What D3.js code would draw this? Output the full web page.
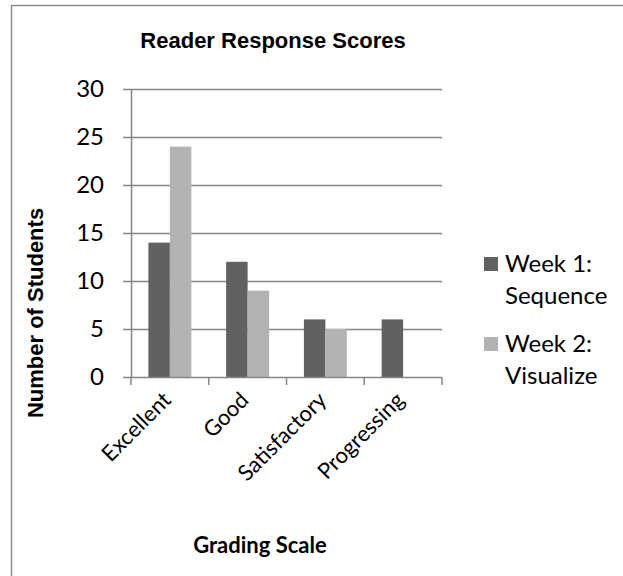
<!DOCTYPE html>
<html>
<head>
<meta charset="utf-8">
<script src="https://cdn.jsdelivr.net/npm/d3@7"></script>
<style>
  body { margin: 0; background: #fff; }
  svg { display: block; }
</style>
</head>
<body>
<svg id="chart" width="623" height="576"></svg>
<script>
// Chart values
let categories = ["Excellent", "Good", "Satisfactory", "Progressing"];
let seriesNames = ["Week 1: Sequence", "Week 2: Visualize"];
let legendLines = [["Week 1:", "Sequence"], ["Week 2:", "Visualize"]];
let week1 = [14, 12, 6, 6];
let week2 = [24, 9, 5, 0];
let yTicks = [0, 5, 10, 15, 20, 25, 30];
let colors = ["#616161", "#b3b3b3"];

let svg = d3.select("#chart");
let axisGray = "#868686";

// outer chart frame (right/bottom edges fall outside the picture)
svg.append("rect")
    .attr("x", 11.5).attr("y", 5.5)
    .attr("width", 640).attr("height", 600)
    .attr("fill", "none")
    .attr("stroke", "#8c8c8c")
    .attr("stroke-width", 1.5);

let plot = {left: 131, right: 442, top: 89, bottom: 377};

let x0 = d3.scaleBand().domain(categories).range([plot.left, plot.right]);
let x1 = d3.scaleBand().domain(seriesNames).range([0, x0.bandwidth()]).paddingOuter(0.81);
let y = d3.scaleLinear().domain([0, 30]).range([plot.bottom, plot.top]);

// horizontal gridlines
svg.append("g")
    .selectAll("line")
    .data(yTicks.filter(d => d > 0))
    .enter().append("line")
    .attr("x1", plot.left).attr("x2", plot.right)
    .attr("y1", d => Math.round(y(d)) + 0.5).attr("y2", d => Math.round(y(d)) + 0.5)
    .attr("stroke", axisGray)
    .attr("stroke-width", 1.5);

// bars
let rows = categories.map((c, i) => ({cat: c, values: [week1[i], week2[i]]}));
svg.append("g")
    .selectAll("g")
    .data(rows)
    .enter().append("g")
    .attr("transform", d => "translate(" + x0(d.cat) + ",0)")
    .selectAll("rect")
    .data(d => d.values.map((v, j) => ({series: seriesNames[j], value: v, j: j})))
    .enter().append("rect")
    .attr("x", d => x1(d.series))
    .attr("width", x1.bandwidth())
    .attr("y", d => y(d.value))
    .attr("height", d => y(0) - y(d.value))
    .attr("fill", d => colors[d.j]);

// y axis
let yAxis = svg.append("g")
    .attr("transform", "translate(" + plot.left + ",0)")
    .call(d3.axisLeft(y).tickValues(yTicks).tickSize(8).tickPadding(19).tickSizeOuter(0));
yAxis.select(".domain").attr("stroke", axisGray).attr("stroke-width", 1.5);
yAxis.selectAll(".tick line").attr("stroke", axisGray).attr("stroke-width", 1.5);
yAxis.selectAll(".tick text")
    .attr("font-family", "Lato, sans-serif")
    .attr("font-size", "24px")
    .attr("fill", "#000");

// x axis: ticks at category boundaries
let boundaries = categories.map(c => x0(c)).concat([plot.right]);
svg.append("line")
    .attr("x1", plot.left).attr("x2", plot.right)
    .attr("y1", plot.bottom + 0.5).attr("y2", plot.bottom + 0.5)
    .attr("stroke", axisGray).attr("stroke-width", 1.5);
svg.append("g")
    .selectAll("line")
    .data(boundaries)
    .enter().append("line")
    .attr("x1", d => d).attr("x2", d => d)
    .attr("y1", plot.bottom).attr("y2", plot.bottom + 8)
    .attr("stroke", axisGray).attr("stroke-width", 1.5);

svg.append("g")
    .selectAll("text")
    .data(categories)
    .enter().append("text")
    .attr("transform", d => "translate(" + (x0(d) + x0.bandwidth() / 2 - 3) + "," + (plot.bottom + 19) + ") rotate(-45)")
    .attr("text-anchor", "end")
    .attr("dy", "0.35em")
    .attr("font-family", "Lato, sans-serif")
    .attr("font-size", "22px")
    .text(d => d);

// title
svg.append("text")
    .attr("x", 273).attr("y", 48)
    .attr("text-anchor", "middle")
    .attr("font-family", "'Liberation Sans', Arial, sans-serif")
    .attr("font-weight", "bold")
    .attr("font-size", "22px")
    .text("Reader Response Scores");

// axis titles
svg.append("text")
    .attr("transform", "translate(43,313) rotate(-90)")
    .attr("text-anchor", "middle")
    .attr("font-family", "'Liberation Sans', Arial, sans-serif")
    .attr("font-weight", "bold")
    .attr("font-size", "22px")
    .text("Number of Students");

svg.append("text")
    .attr("x", 260).attr("y", 553)
    .attr("text-anchor", "middle")
    .attr("font-family", "Lato, sans-serif")
    .attr("font-weight", "bold")
    .attr("font-size", "22px")
    .text("Grading Scale");

// legend
let legend = svg.append("g")
    .selectAll("g")
    .data(seriesNames)
    .enter().append("g")
    .attr("transform", (d, i) => "translate(484," + (257 + i * 80) + ")");
legend.append("rect")
    .attr("width", 14).attr("height", 14)
    .attr("fill", (d, i) => colors[i]);
legend.append("text")
    .attr("font-family", "Lato, sans-serif")
    .attr("font-size", "24px")
    .selectAll("tspan")
    .data((d, i) => legendLines[i])
    .enter().append("tspan")
    .attr("x", 21)
    .attr("y", (d, k) => 15 + k * 31.5)
    .text(d => d);
</script>
</body>
</html>
